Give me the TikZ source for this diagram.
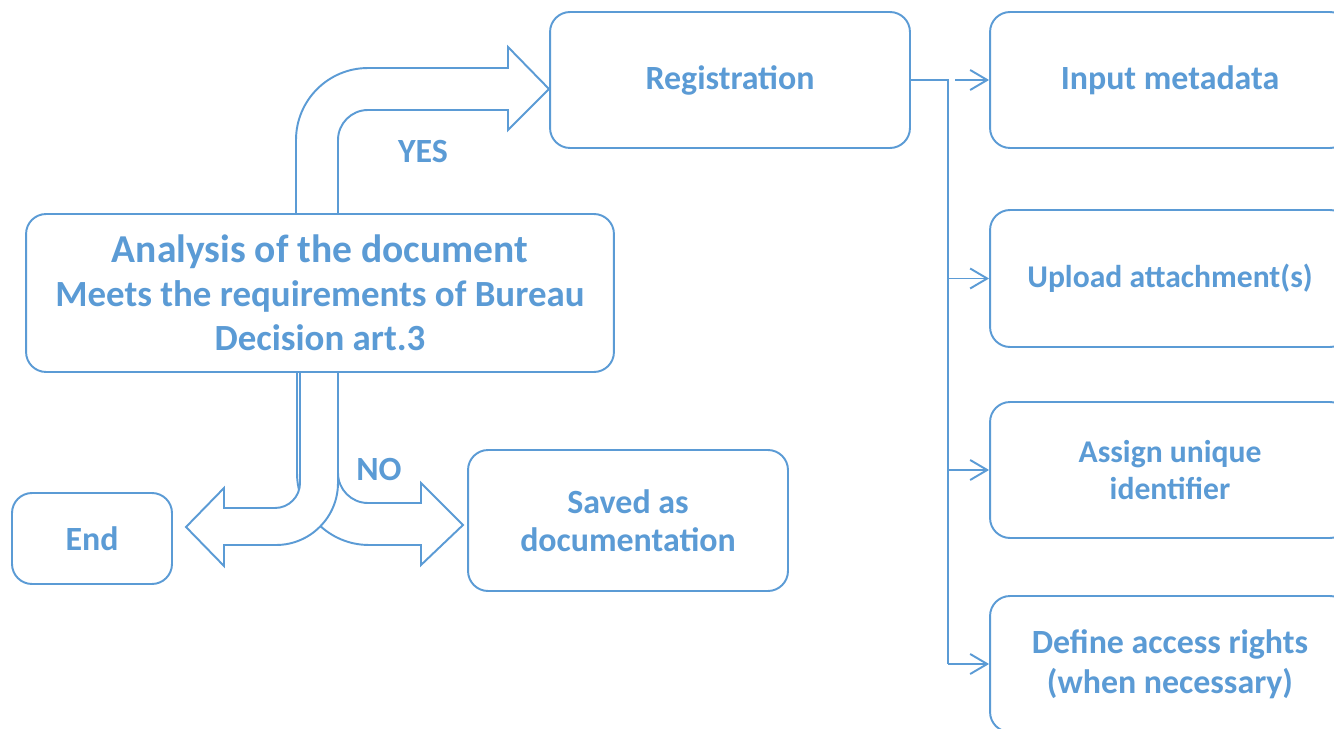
\documentclass[tikz,border=0pt]{standalone}
\usepackage{fontspec}
\setmainfont{Carlito}
\usetikzlibrary{arrows.meta,calc}
\definecolor{ofblue}{HTML}{5B9BD5}

\begin{document}
\begin{tikzpicture}[
  x=0.02cm, y=-0.02cm,
  font=\bfseries\fontsize{19.3}{21.5}\selectfont,
  box/.style={draw=ofblue,line width=1.1pt,rounded corners=0.4cm,fill=white,text=ofblue,align=center,minimum width=7.2cm,minimum height=2.72cm,inner sep=2pt},
  blk/.style={draw=ofblue,line width=1.1pt,fill=white},
  lbl/.style={text=ofblue},
  arr/.style={-{Straight Barb[length=3.4mm,width=4mm]},draw=ofblue,line width=1.1pt}
]
\useasboundingbox (0,0) rectangle (1334,729);

% boxes
\node[box] (reg) at (730,80) {Registration};
\node[box] (inp) at (1170,80) {Input metadata};
\node[box,minimum height=2.74cm,font=\bfseries\fontsize{18}{21.5}\selectfont] (upl) at (1170,278.5) {Upload attachment(s)};
\node[box,font=\bfseries\fontsize{18}{21.5}\selectfont] (asg) at (1170,470) {Assign unique\\identifier};
\node[box,font=\bfseries\fontsize{19.3}{22.7}\selectfont] (acc) at (1170,664) {Define access rights\\(when necessary)};
\node[box,minimum width=11.76cm,minimum height=3.16cm,font=\bfseries\fontsize{21}{25}\selectfont] (ana) at (320,293)
  {{\fontsize{22.5}{25}\selectfont Analysis of the document}\\Meets the requirements of Bureau\\Decision art.3};
\node[box,minimum width=3.2cm,minimum height=1.82cm] (endb) at (92,538.5) {End};
\node[box,minimum width=6.4cm,minimum height=2.82cm] (sav) at (628,520.5) {Saved as\\documentation};

% labels
\node[lbl] (yes) at (423,152) {YES};
\node[lbl] (no) at (379,469) {NO};

% block arrows
\draw[blk] (296,214) -- (296,140) arc[start angle=180,end angle=90,radius=1.44cm] -- (508,68) -- (508,47) -- (549,89)
  -- (508,130) -- (508,110) -- (368,110) arc[start angle=90,end angle=180,radius=0.6cm] -- (338,214) -- cycle;
\draw[blk] (297,372) -- (297,473) arc[start angle=180,end angle=270,radius=1.44cm] -- (421,545) -- (421,565) -- (463,525)
  -- (421,483) -- (421,503) -- (368,503) arc[start angle=270,end angle=180,radius=0.6cm] -- (338,372) -- cycle;
\draw[blk] (300,372) -- (300,483) arc[start angle=0,end angle=-90,radius=0.5cm] -- (224,508) -- (224,488) -- (186,527)
  -- (224,566) -- (224,545) -- (276,545) arc[start angle=270,end angle=360,radius=1.24cm] -- (338,372) -- cycle;

% registration steps
\coordinate (bus) at (948,80);
\draw[ofblue,line width=1.1pt] (reg.east) -- (bus) -- (bus |- acc.west);
\draw[arr] ($(bus)+(7,0)$) -- (inp.west);
\draw[arr] (bus |- upl.west) -- (upl.west);
\draw[arr] (bus |- asg.west) -- (asg.west);
\draw[arr] (bus |- acc.west) -- (acc.west);
\end{tikzpicture}
\end{document}
